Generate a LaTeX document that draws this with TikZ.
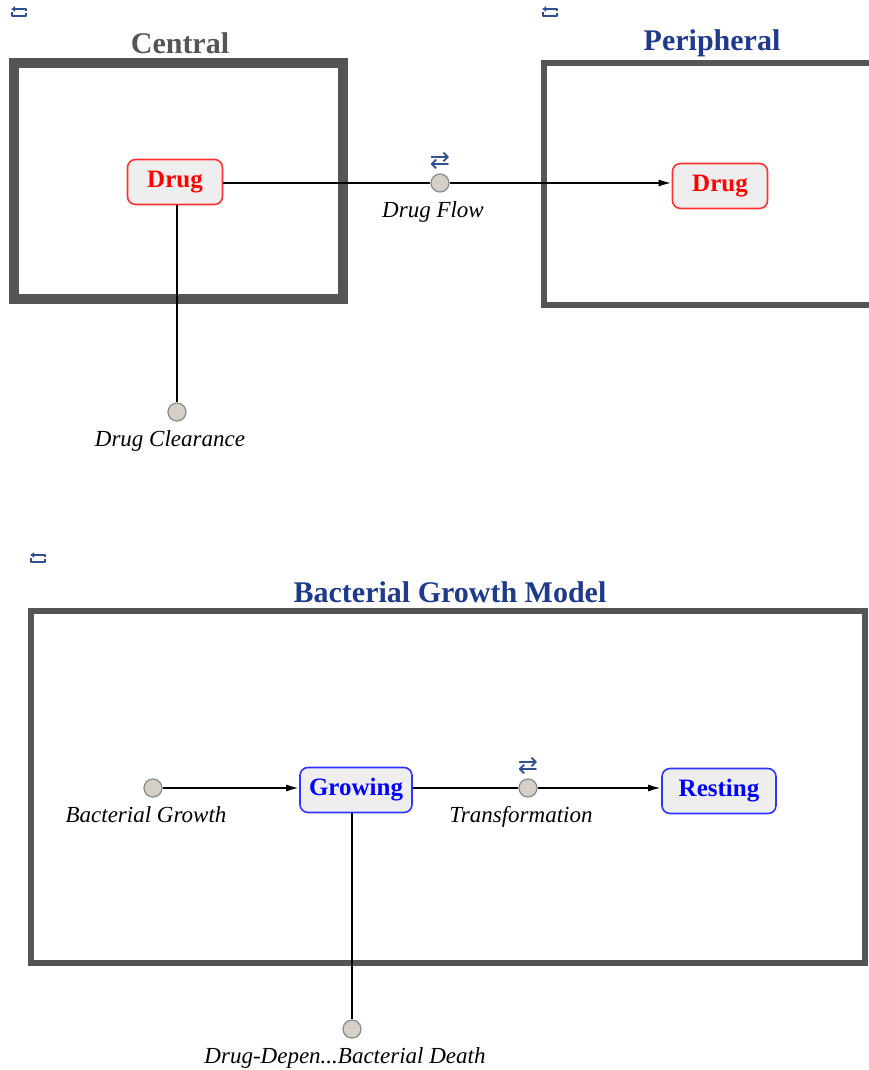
\documentclass[tikz,border=0pt]{standalone}
\usepackage{fontspec}
\setmainfont{Liberation Serif}
\newfontfamily\symfont{DejaVu Sans}
\usetikzlibrary{arrows.meta}
\definecolor{FrameGray}{HTML}{555555}
\definecolor{TitleBlue}{HTML}{1F3A8A}
\definecolor{BoxFill}{HTML}{EEEEEE}
\definecolor{DrugRed}{HTML}{FF0000}
\definecolor{CellBlue}{HTML}{0000FF}
\definecolor{ValveFill}{HTML}{D4D0C8}
\definecolor{ValveEdge}{HTML}{8A8A8A}
\definecolor{IconBlue}{HTML}{2F4F8F}

\begin{document}
\begin{tikzpicture}[
  x=1pt, y=-1pt,
  frame/.style={draw=FrameGray, line width=#1},
  title/.style={font=\fontsize{30}{32}\selectfont\bfseries, text=#1},
  species/.style={rectangle, rounded corners=8pt, draw=#1!80!white, line width=1.6pt, fill=BoxFill, text=#1, font=\fontsize{25}{27}\selectfont\bfseries, minimum height=45pt, inner sep=2pt},
  valve/.style={circle, draw=ValveEdge, line width=1.2pt, fill=ValveFill, minimum size=18pt, inner sep=0pt},
  lbl/.style={font=\fontsize{23}{25}\selectfont\itshape, xshift=-7pt},
  flow/.style={draw=black, line width=2pt},
  arrow/.style={flow, -{Latex[length=13pt, width=7pt]}},
  revmark/.style={text=IconBlue, font=\symfont\fontsize{24}{24}\selectfont, inner sep=0pt},
  loopicon/.style={draw=IconBlue, line width=1.8pt, line join=round}
]
\useasboundingbox (0,0) rectangle (869,1070);

% compartments
\draw[frame=10pt] (14,63) rectangle (343,299);
\draw[frame=6pt] (869,63) -- (544,63) -- (544,305) -- (869,305);
\draw[frame=6pt] (31,611) rectangle (865,963);

\node[title=FrameGray] (centraltitle) at (180,43) {Central};
\node[title=TitleBlue] (peritittle) at (712,43) {Peripheral};
\node[title=TitleBlue] (bacttitle) at (450,592) {Bacterial Growth Model};

% loop icons
\draw[loopicon, -{Latex[length=4pt, width=6pt]}] (26,11) -- (26,9) -- (11,9);
\draw[loopicon] (12,12) -- (12,16) -- (26,16) -- (26,13);
\draw[loopicon, -{Latex[length=4pt, width=6pt]}] (557,11) -- (557,9) -- (542,9);
\draw[loopicon] (543,12) -- (543,16) -- (557,16) -- (557,13);
\draw[loopicon, -{Latex[length=4pt, width=6pt]}] (45,557) -- (45,555) -- (30,555);
\draw[loopicon] (31,558) -- (31,562) -- (45,562) -- (45,559);

% pharmacokinetics
\node[species=DrugRed, minimum width=95pt] (cdrug) at (175,182) {Drug};
\node[species=DrugRed, minimum width=95pt] (pdrug) at (720,186) {Drug};
\node[valve, label={[lbl, label distance=5pt]below:Drug Flow}] (dflow) at (440,183) {};
\node[revmark] (dflowmark) at (440,161) {⇄};
\node[valve, label={[lbl, label distance=5pt]below:Drug Clearance}] (dclear) at (177,412) {};

\draw[flow] (cdrug.east |- dflow) -- (dflow);
\draw[arrow] (dflow) -- (dflow -| pdrug.west);
\draw[flow] (dclear |- cdrug.south) -- (dclear);

% bacteria
\node[species=CellBlue, minimum width=112pt] (growing) at (356,790) {Growing};
\node[species=CellBlue, minimum width=114pt] (resting) at (719,791) {Resting};
\node[valve, label={[lbl, label distance=5pt]below:Bacterial Growth}] (bgrowth) at (153,788) {};
\node[valve, label={[lbl, label distance=5pt]below:Transformation}] (trans) at (528,788) {};
\node[revmark] (transmark) at (528,766) {⇄};
\node[valve, label={[lbl, label distance=5pt]below:Drug-Depen...Bacterial Death}] (ddeath) at (352,1029) {};

\draw[arrow] (bgrowth) -- (bgrowth -| growing.west);
\draw[flow] (growing.east |- trans) -- (trans);
\draw[arrow] (trans) -- (trans -| resting.west);
\draw[flow] (ddeath |- growing.south) -- (ddeath);
\end{tikzpicture}
\end{document}
